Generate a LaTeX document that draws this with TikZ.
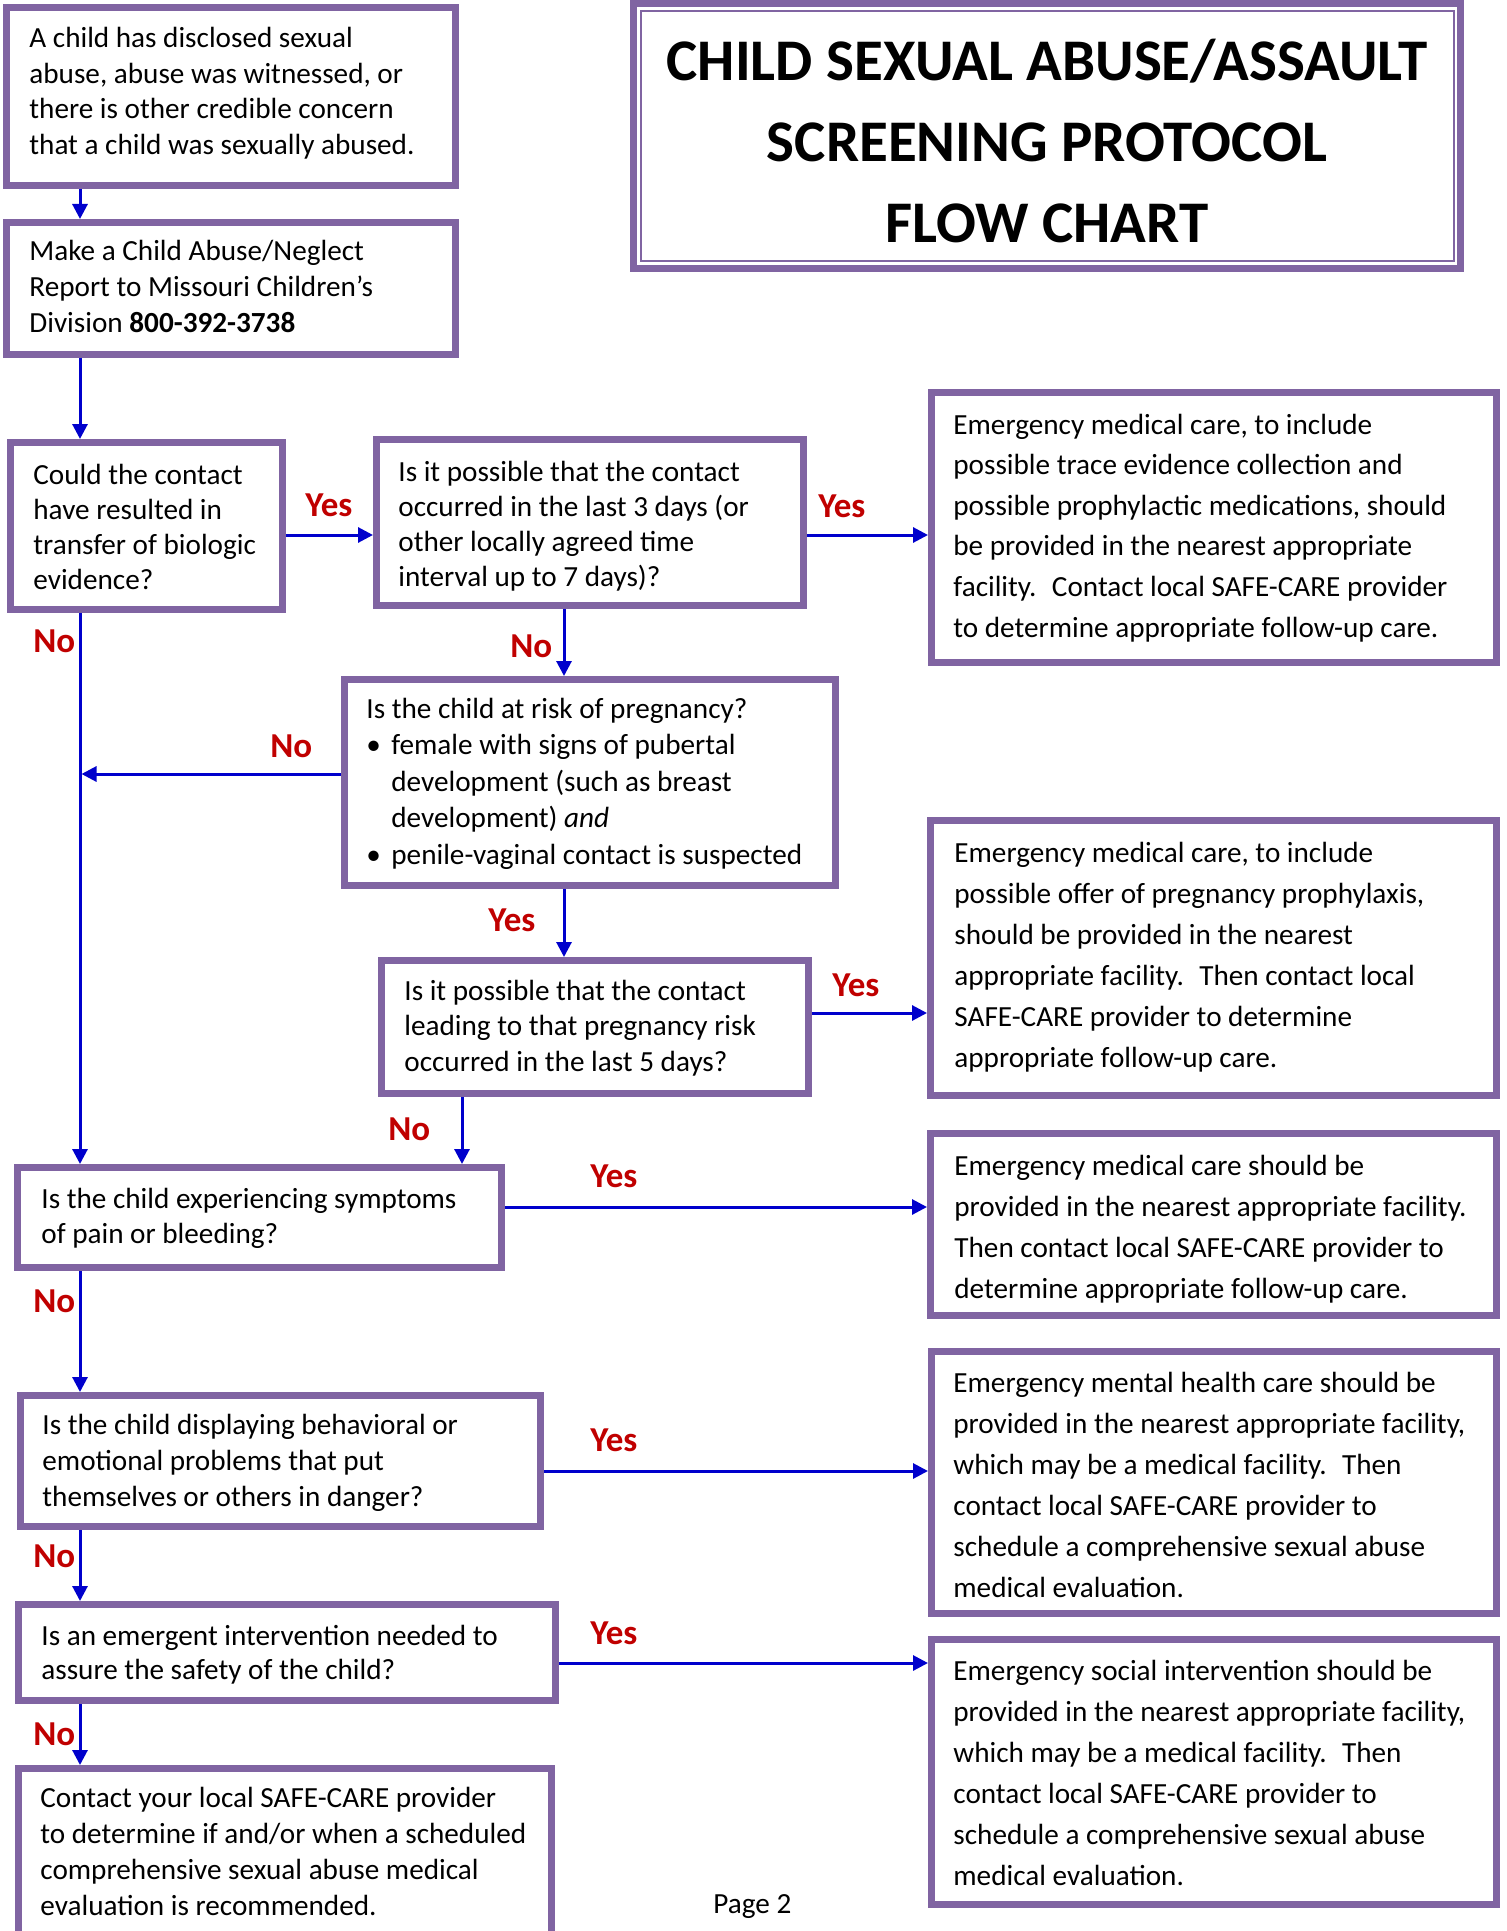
\documentclass[tikz,border=0pt]{standalone}
\usepackage{fontspec}
\setmainfont{Carlito}
\usetikzlibrary{arrows.meta,fit,calc}
\definecolor{boxpurple}{HTML}{8064A2}
\definecolor{arrblue}{RGB}{0,0,204}
\definecolor{lblred}{HTML}{C00000}
\newcommand{\flines}[1]{\begin{tabular}[t]{@{}l@{}}#1\end{tabular}}
\begin{document}
\begin{tikzpicture}[x=0.5pt,y=-0.5pt,
  box/.style={draw=boxpurple,line width=3.5pt,fill=white,inner sep=0pt},
  txt/.style={font=\fontsize{14.6pt}{#1}\selectfont,anchor=base west,inner sep=0pt},
  lbl/.style={font=\fontsize{17.5pt}{21pt}\selectfont\bfseries,text=lblred,anchor=base west,inner sep=0pt},
  arr/.style={draw=arrblue,line width=1.5pt,-{Triangle[length=7.5pt,width=7.5pt]}}]
\useasboundingbox (0,0) rectangle (1506,1931);
\clip (0,0) rectangle (1506,1931);

% ---------- title ----------
\node[box,fit={(633.5,3.5) (1460.5,268.5)}] (title) {};
\draw[boxpurple,line width=1pt] ([shift={(11,11)}]title.north west) rectangle ([shift={(-10.5,-10.5)}]title.south east);
\node[font=\fontsize{29.5pt}{40.5pt}\selectfont\bfseries,anchor=base,inner sep=0pt] (ttl) at (1047,81)
  {\begin{tabular}[t]{@{}c@{}}CHILD SEXUAL ABUSE/ASSAULT\\SCREENING PROTOCOL\\FLOW CHART\end{tabular}};

% ---------- boxes ----------
\node[box,fit={(6.5,7.5) (455.5,185.5)}] (b1) {};
\node[box,fit={(6.5,222.5) (455.5,354.5)}] (b2) {};
\node[box,fit={(10.5,442.5) (282.5,609.5)}] (b3) {};
\node[box,fit={(376.5,439.5) (803.5,605.5)}] (b4) {};
\node[box,fit={(931.5,392.5) (1496.5,662.5)}] (b5) {};
\node[box,fit={(344.5,679.5) (835.5,885.5)}] (b6) {};
\node[box,fit={(381.5,960.5) (808.5,1093.5)}] (b7) {};
\node[box,fit={(930.5,820.5) (1496.5,1095.5)}] (b8) {};
\node[box,fit={(930.5,1133.5) (1496.5,1315.5)}] (b9) {};
\node[box,fit={(17.5,1167.5) (501.5,1267.5)}] (b10) {};
\node[box,fit={(20.5,1395.5) (540.5,1526.5)}] (b11) {};
\node[box,fit={(18.5,1604.5) (555.5,1700.5)}] (b13) {};
\node[box,fit={(18.5,1768.5) (551.5,1990)}] (b12) {};
\node[box,fit={(931.5,1351.5) (1496.5,1613.5)}] (b14) {};
\node[box,fit={(931.5,1639.5) (1496.5,1904.5)}] (b15) {};

% ---------- texts ----------
\node[txt=17.75pt] (t1) at (29,48) {\flines{A child has disclosed sexual\\abuse, abuse was witnessed, or\\there is other credible concern\\that a child was sexually abused.}};
\node[txt=18pt] (t2) at (29,261) {\flines{Make a Child Abuse/Neglect\\Report to Missouri Children’s\\Division \textbf{800-392-3738}}};
\node[txt=17.5pt] (t3) at (33,484) {\flines{Could the contact\\have resulted in\\transfer of biologic\\evidence?}};
\node[txt=17.5pt] (t4) at (398,481) {\flines{Is it possible that the contact\\occurred in the last 3 days (or\\other locally agreed time\\interval up to 7 days)?}};
\node[txt=20.3pt] (t5) at (953,434) {\flines{Emergency medical care, to include\\possible trace evidence collection and\\possible prophylactic medications, should\\be provided in the nearest appropriate\\facility.~ Contact local SAFE-CARE provider\\to determine appropriate follow-up care.}};
\node[txt=18.25pt] (t6) at (366,718) {\flines{Is the child at risk of pregnancy?\\\makebox[12.5pt][l]{•}female with signs of pubertal\\\hspace*{12.5pt}development (such as breast\\\hspace*{12.5pt}development) \textit{and}\\\makebox[12.5pt][l]{•}penile-vaginal contact is suspected}};
\node[txt=17.75pt] (t7) at (404,1000) {\flines{Is it possible that the contact\\leading to that pregnancy risk\\occurred in the last 5 days?}};
\node[txt=20.5pt] (t8) at (954,862) {\flines{Emergency medical care, to include\\possible offer of pregnancy prophylaxis,\\should be provided in the nearest\\appropriate facility.~ Then contact local\\SAFE-CARE provider to determine\\appropriate follow-up care.}};
\node[txt=20.5pt] (t9) at (954,1175) {\flines{Emergency medical care should be\\provided in the nearest appropriate facility.\\Then contact local SAFE-CARE provider to\\determine appropriate follow-up care.}};
\node[txt=17.5pt] (t10) at (41,1208) {\flines{Is the child experiencing symptoms\\of pain or bleeding?}};
\node[txt=18pt] (t11) at (42,1434) {\flines{Is the child displaying behavioral or\\emotional problems that put\\themselves or others in danger?}};
\node[txt=17pt] (t13) at (41,1645) {\flines{Is an emergent intervention needed to\\assure the safety of the child?}};
\node[txt=18pt] (t12) at (40,1807) {\flines{Contact your local SAFE-CARE provider\\to determine if and/or when a scheduled\\comprehensive sexual abuse medical\\evaluation is recommended.}};
\node[txt=20.5pt] (t14) at (953,1392) {\flines{Emergency mental health care should be\\provided in the nearest appropriate facility,\\which may be a medical facility.~ Then\\contact local SAFE-CARE provider to\\schedule a comprehensive sexual abuse\\medical evaluation.}};
\node[txt=20.5pt] (t15) at (953,1680) {\flines{Emergency social intervention should be\\provided in the nearest appropriate facility,\\which may be a medical facility.~ Then\\contact local SAFE-CARE provider to\\schedule a comprehensive sexual abuse\\medical evaluation.}};
\node[txt=17.75pt] (pg) at (713,1913) {Page 2};

% ---------- connector guides ----------
\coordinate (spine) at (80,0);
\coordinate (xa) at (564,0);
\coordinate (xb) at (462,0);
\coordinate (y34) at (0,535);
\coordinate (y6) at (0,774);
\coordinate (y78) at (0,1013);
\coordinate (y109) at (0,1207);
\coordinate (y1114) at (0,1471);
\coordinate (y1315) at (0,1663);

% ---------- connectors ----------
\draw[arr] (b1.south -| spine) -- (b2.north -| spine);
\draw[arr] (b2.south -| spine) -- (b3.north -| spine);
\draw[arr] (b3.east |- y34) -- (b4.west |- y34);
\draw[arr] (b4.east |- y34) -- (b5.west |- y34);
\draw[arr] (b4.south -| xa) -- (b6.north -| xa);
\draw[arr] (b3.south -| spine) -- (b10.north -| spine);
\draw[arr,shorten >=0.75pt] (b6.west |- y6) -- (y6 -| spine);
\draw[arr] (b6.south -| xa) -- (b7.north -| xa);
\draw[arr] (b7.east |- y78) -- (b8.west |- y78);
\draw[arr] (b7.south -| xb) -- (b10.north -| xb);
\draw[arr] (b10.east |- y109) -- (b9.west |- y109);
\draw[arr] (b10.south -| spine) -- (b11.north -| spine);
\draw[arr] (b11.east |- y1114) -- (b14.west |- y1114);
\draw[arr] (b11.south -| spine) -- (b13.north -| spine);
\draw[arr] (b13.east |- y1315) -- (b15.west |- y1315);
\draw[arr] (b13.south -| spine) -- (b12.north -| spine);

% ---------- labels ----------
\node[lbl] (l1) at (305,516) {Yes};
\node[lbl] (l2) at (818,517) {Yes};
\node[lbl] (l3) at (33,652) {No};
\node[lbl] (l4) at (510,657) {No};
\node[lbl] (l5) at (270,757) {No};
\node[lbl] (l6) at (488,931) {Yes};
\node[lbl] (l7) at (832,996) {Yes};
\node[lbl] (l8) at (388,1140) {No};
\node[lbl] (l9) at (590,1187) {Yes};
\node[lbl] (l10) at (33,1312) {No};
\node[lbl] (l11) at (590,1451) {Yes};
\node[lbl] (l12) at (33,1567) {No};
\node[lbl] (l13) at (590,1644) {Yes};
\node[lbl] (l14) at (33,1745) {No};
\end{tikzpicture}
\end{document}
